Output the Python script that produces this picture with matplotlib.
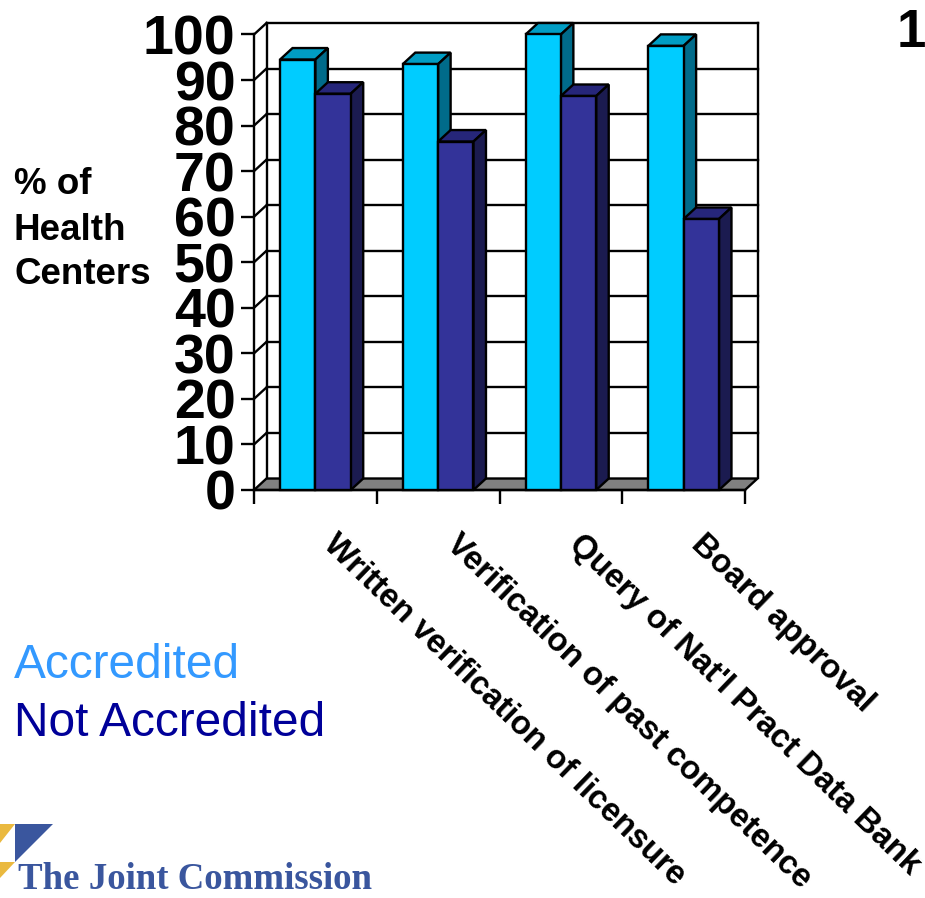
import matplotlib
matplotlib.use("Agg")
import matplotlib.pyplot as plt
from matplotlib.patches import Polygon

W, H = 925, 898
categories = ["Written verification of licensure", "Verification of past competence",
              "Query of Nat'l Pract Data Bank", "Board approval"]
accredited = [94.5, 93.5, 100, 97.5]
not_accredited = [87, 76.5, 86.5, 59.5]
yticks = list(range(0, 101, 10))

plt.rcParams['font.family'] = ['Liberation Sans', 'DejaVu Sans']

fig = plt.figure(figsize=(W / 100, H / 100), dpi=100)
# axes = front plane of the 3d box
ax = fig.add_axes([254 / W, 1 - 490 / H, (745 - 254) / W, (490 - 34.5) / H])
ax.set_xlim(0, 4)
ax.set_ylim(0, 100)
ax.patch.set_visible(False)

# fake 3d depth in data units
dx = 12.5 / (491 / 4)
dy = 11.5 / (455.5 / 100)
bar_w = 0.288
lw = 1.7


def poly(pts, color, z):
    ax.add_patch(Polygon(pts, closed=True, facecolor=color, edgecolor='black',
                         linewidth=lw, zorder=z, clip_on=False, joinstyle='miter'))


def bar3d(x0, x1, h, front, top, side, z):
    poly([(x0, 0), (x1, 0), (x1, h), (x0, h)], front, z + 0.2)
    poly([(x0, h), (x1, h), (x1 + dx, h + dy), (x0 + dx, h + dy)], top, z)
    poly([(x1, 0), (x1 + dx, dy), (x1 + dx, h + dy), (x1, h)], side, z + 0.1)


# floor and walls
poly([(0, 0), (dx, dy), (4 + dx, dy), (4, 0)], '#808080', 1)
for y in yticks[1:]:
    ax.plot([dx, 4 + dx], [y + dy, y + dy], color='black', lw=lw, zorder=1, clip_on=False)
    ax.plot([0, dx], [y, y + dy], color='black', lw=lw, zorder=1, clip_on=False)
ax.plot([dx, dx], [dy, 100 + dy], color='black', lw=lw, zorder=1, clip_on=False)
ax.plot([4 + dx, 4 + dx], [dy, 100 + dy], color='black', lw=lw, zorder=1, clip_on=False)

for i in range(len(categories)):
    xm = i + 0.5
    bar3d(xm - bar_w, xm, accredited[i], '#00CCFF', '#009DC4', '#006B8A', 3 + i)
    bar3d(xm, xm + bar_w, not_accredited[i], '#333399', '#26267A', '#1B1B50', 3.5 + i)

for s in ['top', 'right']:
    ax.spines[s].set_visible(False)
for s in ['left', 'bottom']:
    ax.spines[s].set_linewidth(lw)
    ax.spines[s].set_zorder(2)

ax.set_yticks(yticks)
ax.set_yticklabels([str(y) for y in yticks], fontsize=40, fontweight='bold')
ax.set_xticks(range(5))
ax.set_xticklabels([])
ax.tick_params(axis='y', length=9.4, width=lw, pad=4)
ax.tick_params(axis='x', length=10, width=lw)

for i, c in enumerate(categories):
    ax.annotate(c, xy=(i + 0.5, 0), xytext=(9, -36), textcoords='offset points',
                rotation=-44, rotation_mode='anchor', ha='left', va='center',
                fontsize=23.7, fontweight='bold', annotation_clip=False)


def fx(px):
    return px / W


def fy(py):
    return 1 - py / H


for t, py in zip(["% of", "Health", "Centers"], [184, 230, 274]):
    fig.text(fx(14), fy(py), t, fontsize=26.5, fontweight='bold', va='center', ha='left')

fig.text(fx(14), fy(666), "Accredited", color='#3399FF', fontsize=34.5, va='center')
fig.text(fx(14), fy(724), "Not Accredited", color='#000099', fontsize=34.5, va='center')
fig.text(fx(926), fy(33), "1", fontsize=38, fontweight='bold', va='center', ha='right')

# logo
logo_blue = '#3A569E'
logo_gold = '#EAB93F'
for pts, col in [([(15, 824), (53, 824), (15, 862)], logo_blue),
                 ([(0, 824), (15, 824), (0, 843)], logo_gold),
                 ([(0, 862), (15, 862), (0, 878)], logo_gold)]:
    fig.add_artist(Polygon([(fx(a), fy(b)) for a, b in pts], closed=True, transform=fig.transFigure,
                           facecolor=col, edgecolor='none'))
fig.text(fx(18), fy(889), "The Joint Commission", color=logo_blue, fontsize=26.6, fontweight='bold',
         family=['Liberation Serif', 'DejaVu Serif'], va='baseline')

fig.savefig("out.png", dpi=100)
